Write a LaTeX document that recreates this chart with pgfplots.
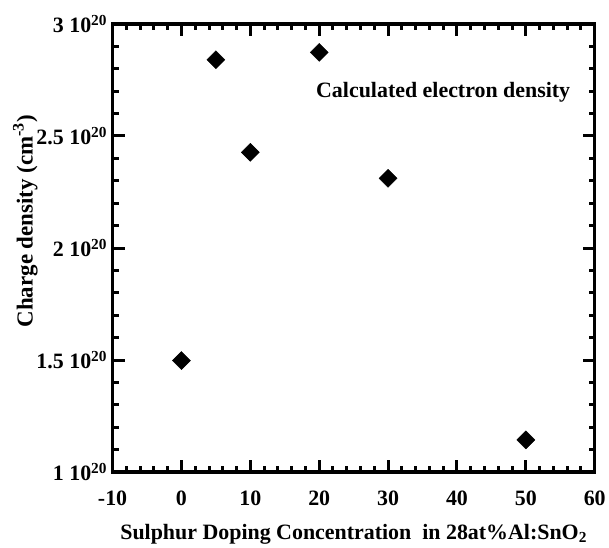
\documentclass[border=0pt]{standalone}
\usepackage{pgfplots}
\pgfplotsset{compat=1.18}
\usepackage{fontspec}
\setmainfont{Liberation Serif}
\begin{document}
\begin{tikzpicture}
\begin{axis}[
  scale only axis, width=484pt, height=450pt,
  xmin=-10, xmax=60, ymin=1, ymax=3,
  xtick={-10,0,10,20,30,40,50,60},
  xticklabels={-10,0,10,20,30,40,50,60},
  ytick={1,1.5,2,2.5,3},
  yticklabels={1 10\textsuperscript{20},1.5 10\textsuperscript{20},2 10\textsuperscript{20},2.5 10\textsuperscript{20},3 10\textsuperscript{20}},
  minor x tick num=4, minor y tick num=4,
  tick align=inside,
  major tick length=12pt, minor tick length=6pt,
  axis line style={line width=3.5pt},
  every tick/.style={black, line width=3pt},
  ticklabel style={font=\fontsize{22}{26}\selectfont\bfseries},
  xticklabel style={yshift=-15pt},
  yticklabel style={xshift=-2pt},
  label style={font=\fontsize{22}{26}\selectfont\bfseries},
  xlabel={Sulphur Doping Concentration \ in 28at\%Al:SnO\textsubscript{2}},
  ylabel={Charge density (cm\textsuperscript{-3})},
  xlabel style={yshift=-12pt},
  ylabel style={at={(ticklabel cs:0.56)}, yshift=-8pt, font=\fontsize{23}{27}\selectfont\bfseries},
  clip=false,
]
\addplot[only marks, mark=square*, mark size=6.4pt, mark options={rotate=45, fill=black, draw=black}] coordinates {
(0,1.498) (5,2.84) (10,2.427) (20,2.873) (30,2.311) (50,1.144)
};
\node[font=\fontsize{22}{26}\selectfont\bfseries] at (axis cs:38,2.695) {Calculated electron density};
\path[use as bounding box] (rel axis cs:-0.2335,-0.1667) rectangle (rel axis cs:1.0248,1.0533);
\end{axis}
\end{tikzpicture}
\end{document}
